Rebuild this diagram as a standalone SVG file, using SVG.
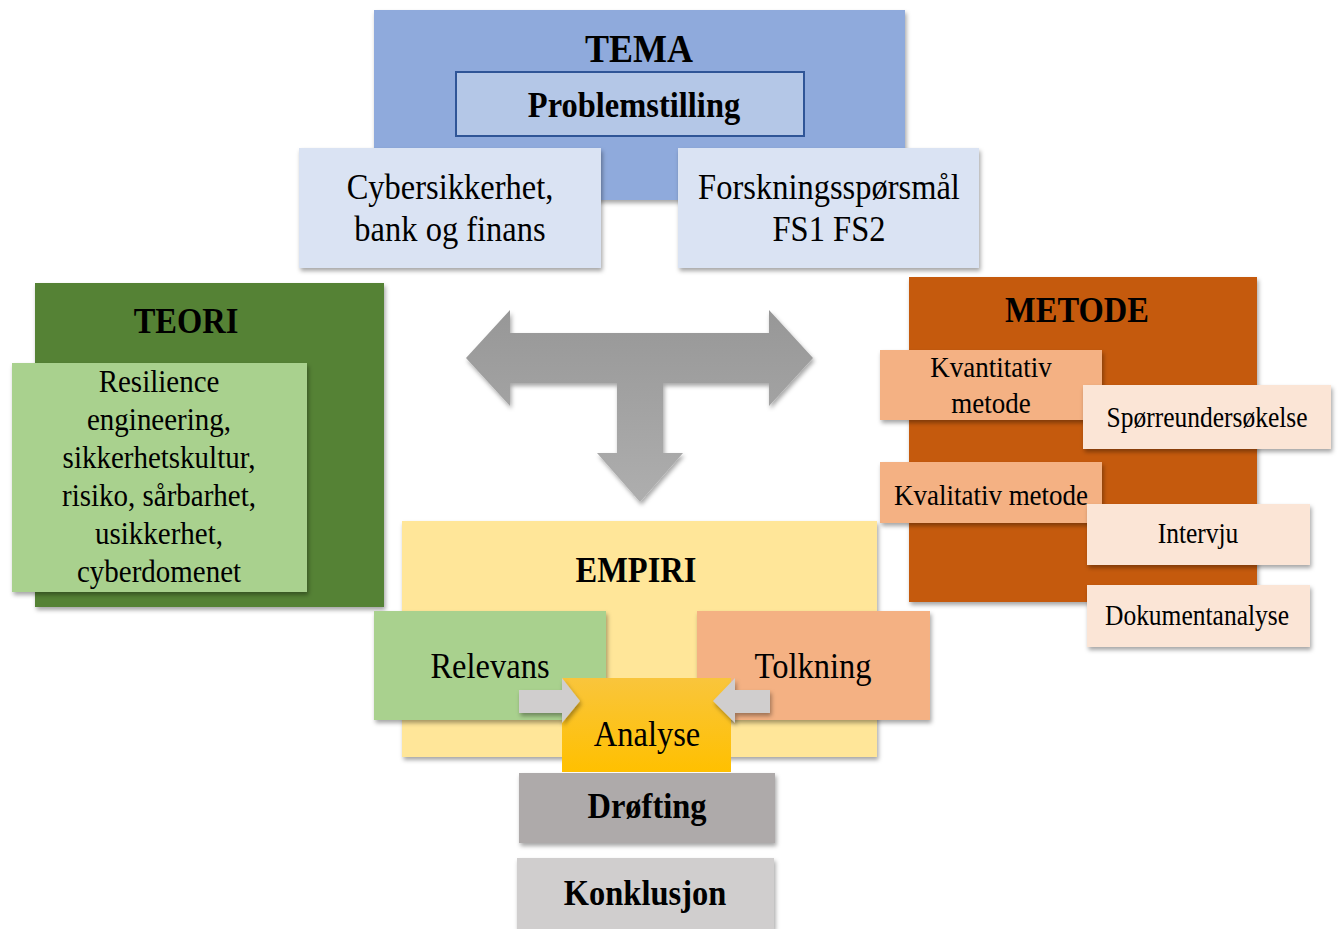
<svg xmlns="http://www.w3.org/2000/svg" width="1338" height="929" viewBox="0 0 1338 929">
  <defs>
    <filter id="shadow" x="-10%" y="-10%" width="125%" height="130%">
      <feDropShadow dx="1.5" dy="3" stdDeviation="2" flood-color="#000" flood-opacity="0.35"/>
    </filter>
    <linearGradient id="gArrow" x1="0" y1="0" x2="0" y2="1">
      <stop offset="0" stop-color="#979797"/>
      <stop offset="1" stop-color="#aeaeae"/>
    </linearGradient>
    <linearGradient id="gAnalyse" x1="0" y1="0" x2="0" y2="1">
      <stop offset="0" stop-color="#f9c53c"/>
      <stop offset="1" stop-color="#ffc000"/>
    </linearGradient>
    <style>
      .box { filter: url(#shadow); }
      text { font-family: "Liberation Serif", "Times New Roman", serif; fill: #000; text-anchor: middle; }
      .h { font-weight: bold; font-size: 32.5px; }
      .t { font-size: 32.5px; }
      .s { font-size: 29px; }
      .m { font-size: 27px; }
      .xs { font-size: 25.5px; }
    </style>
  </defs>

  <rect width="1338" height="929" fill="#ffffff"/>

  <!-- TEMA block -->
  <g id="tema">
    <rect class="box" x="374" y="10" width="531" height="190" fill="#8faadc"/>
    <text class="h" style="font-size:36px" transform="translate(639,62) scale(1,1.12)">TEMA</text>
  </g>
  <g id="problemstilling">
    <rect x="456" y="72" width="348" height="64" fill="#b4c7e7" stroke="#2f5597" stroke-width="2"/>
    <text class="h" transform="translate(634,117) scale(1,1.12)">Problemstilling</text>
  </g>
  <g id="cyber">
    <rect class="box" x="299" y="148" width="302" height="120" fill="#dae3f3"/>
    <text class="t" transform="translate(450,199) scale(1,1.12)"><tspan x="0" dy="0">Cybersikkerhet,</tspan><tspan x="0" dy="37.5">bank og finans</tspan></text>
  </g>
  <g id="forskningsspm">
    <rect class="box" x="678" y="148" width="301" height="120" fill="#dae3f3"/>
    <text class="t" transform="translate(829,199) scale(1,1.12)"><tspan x="0" dy="0">Forskningsspørsmål</tspan><tspan x="0" dy="37.5">FS1 FS2</tspan></text>
  </g>

  <!-- TEORI block -->
  <g id="teori">
    <rect class="box" x="35" y="283" width="349" height="324" fill="#548235"/>
    <text class="h" transform="translate(186,333) scale(1,1.12)">TEORI</text>
  </g>
  <g id="teori-innhold">
    <rect class="box" x="12" y="363" width="295" height="229" fill="#a9d18e"/>
    <text class="s" transform="translate(159,392) scale(1,1.12)"><tspan x="0" dy="0">Resilience</tspan><tspan x="0" dy="34">engineering,</tspan><tspan x="0" dy="34">sikkerhetskultur,</tspan><tspan x="0" dy="34">risiko, sårbarhet,</tspan><tspan x="0" dy="34">usikkerhet,</tspan><tspan x="0" dy="34">cyberdomenet</tspan></text>
  </g>

  <!-- METODE block -->
  <g id="metode">
    <rect class="box" x="909" y="277" width="348" height="325" fill="#c55a11"/>
    <text class="h" transform="translate(1077,322) scale(1,1.12)">METODE</text>
  </g>
  <g id="kvantitativ">
    <rect class="box" x="880" y="350" width="222" height="70" fill="#f4b183"/>
    <text class="m" transform="translate(991,377) scale(1,1.12)"><tspan x="0" dy="0">Kvantitativ</tspan><tspan x="0" dy="32">metode</tspan></text>
  </g>
  <g id="sporreundersokelse">
    <rect class="box" x="1083" y="385" width="248" height="64" fill="#fbe5d6"/>
    <text class="xs" transform="translate(1207,427) scale(1,1.12)">Spørreundersøkelse</text>
  </g>
  <g id="kvalitativ">
    <rect class="box" x="880" y="462" width="222" height="61" fill="#f4b183"/>
    <text class="m" transform="translate(991,505) scale(1,1.12)">Kvalitativ metode</text>
  </g>
  <g id="intervju">
    <rect class="box" x="1087" y="504" width="223" height="61" fill="#fbe5d6"/>
    <text class="xs" transform="translate(1198,543) scale(1,1.12)">Intervju</text>
  </g>
  <g id="dokumentanalyse">
    <rect class="box" x="1087" y="585" width="223" height="62" fill="#fbe5d6"/>
    <text class="xs" transform="translate(1197,625) scale(1,1.12)">Dokumentanalyse</text>
  </g>

  <!-- connectors -->
  <g id="connectors">
    <path class="box" d="M466,358 L510,310 L510,333 L769,333 L769,310 L813,358 L769,406 L769,383 L663,383 L663,453 L683,453 L640,502 L597,453 L617,453 L617,383 L510,383 L510,406 Z" fill="url(#gArrow)"/>
  </g>

  <!-- EMPIRI block -->
  <g id="empiri">
    <rect class="box" x="402" y="521" width="475" height="236" fill="#ffe699"/>
    <text class="h" transform="translate(636,582) scale(1,1.12)">EMPIRI</text>
  </g>
  <g id="relevans">
    <rect class="box" x="374" y="611" width="232" height="109" fill="#a9d18e"/>
    <text class="t" transform="translate(490,678) scale(1,1.12)">Relevans</text>
  </g>
  <g id="tolkning">
    <rect class="box" x="697" y="611" width="233" height="109" fill="#f4b183"/>
    <text class="t" transform="translate(813,678) scale(1,1.12)">Tolkning</text>
  </g>
  <g id="analyse">
    <rect x="562" y="678" width="169" height="94" fill="url(#gAnalyse)"/>
    <text class="t" transform="translate(647,746) scale(1,1.12)">Analyse</text>
  </g>
  <g id="analyse-piler">
    <path class="box" d="M519,690 L562,690 L562,678 L580,701 L562,723 L562,713 L519,713 Z" fill="#d0cece"/>
    <path class="box" d="M770,690 L735,690 L735,678 L713,701 L735,723 L735,713 L770,713 Z" fill="#d0cece"/>
  </g>
  <g id="drofting">
    <rect class="box" x="519" y="773" width="256" height="70" fill="#aeaaaa"/>
    <text class="h" transform="translate(647,818) scale(1,1.12)">Drøfting</text>
  </g>
  <g id="konklusjon">
    <rect class="box" x="517" y="858" width="257" height="71" fill="#d0cece"/>
    <text class="h" transform="translate(645,905) scale(1,1.12)">Konklusjon</text>
  </g>
</svg>
